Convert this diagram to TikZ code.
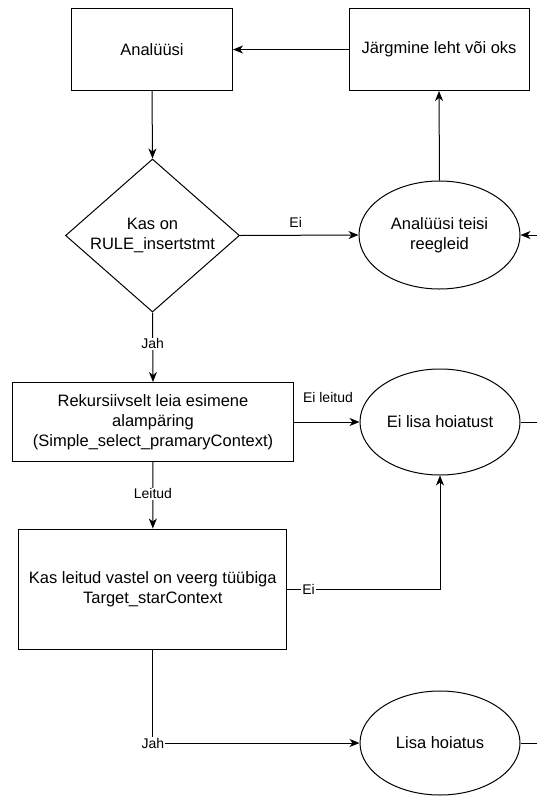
\documentclass[tikz,border=0pt]{standalone}
\usepackage{fontspec}
\setmainfont{Liberation Sans}
\usetikzlibrary{shapes.geometric,arrows.meta}
\begin{document}
\begin{tikzpicture}[x=1pt,y=-1pt,
  box/.style={draw,line width=1pt,rectangle,align=center,inner sep=2pt,font=\fontsize{16.5}{20}\selectfont},
  oval/.style={draw,line width=1pt,ellipse,align=center,inner sep=0pt,font=\fontsize{16.5}{20}\selectfont},
  txt/.style={align=center,inner sep=0pt,font=\fontsize{16.5}{20}\selectfont},
  conn/.style={line width=1pt,-{Stealth[length=10pt,width=8pt,inset=3pt]}},
  plain/.style={line width=1pt},
  elab/.style={font=\fontsize{14}{16}\selectfont,inner sep=1pt},
  onlab/.style={elab,fill=white}]
\useasboundingbox (0,0) rectangle (537,796);
% nodes
\node[box,minimum width=161pt,minimum height=82pt] (ana) at (152,49.5) {Analüüsi};
\node[box,minimum width=180pt,minimum height=82pt] (jarg) at (439,49.5) {Järgmine leht või oks};
\node[draw,line width=1pt,diamond,minimum width=174pt,minimum height=153pt,inner sep=0pt] (kas) at (152.5,235.5) {};
\node[txt] (kastxt) at (152.5,235.5) {Kas on\\RULE\_insertstmt};
\node[oval,minimum width=161pt,minimum height=108pt] (ell1) at (439.5,235) {Analüüsi teisi\\reegleid};
\node[box,minimum width=280.6pt,minimum height=79pt] (rek) at (153,422) {Rekursiivselt leia esimene\\alampäring\\(Simple\_select\_pramaryContext)};
\node[oval,minimum width=160pt,minimum height=106pt] (ell2) at (440,422) {Ei lisa hoiatust};
\node[box,minimum width=267.7pt,minimum height=120pt] (kl) at (152.8,589) {Kas leitud vastel on veerg tüübiga\\Target\_starContext};
\node[oval,minimum width=160pt,minimum height=104pt] (ell3) at (440,743) {Lisa hoiatus};
\coordinate (r1) at (537,235);
\coordinate (r2) at (537,422);
\coordinate (r3) at (537,743);
% connectors
\draw[conn] (jarg.west) -- (ana.east);
\draw[conn] (ana.south) -- (kas.north);
\draw[conn] (kas.east) -- node[elab,pos=0.47,yshift=12.7pt] (lei) {Ei} (ell1.west);
\draw[conn] (ell1.north) -- (jarg.south);
\draw[conn] (r1) -- (ell1.east);
\draw[conn] (kas.south) -- node[onlab,pos=0.45] (ljah) {Jah} (rek.north);
\draw[conn] (rek.east) -- node[elab,pos=0.52,yshift=25pt] (leil) {Ei leitud} (ell2.west);
\draw[conn] (rek.south) -- node[onlab,pos=0.48] (lleit) {Leitud} (kl.north);
\draw[conn] (kl.east) -| node[onlab,pos=0.07] (lei2) {Ei} (ell2.south);
\draw[conn] (kl.south) |- node[onlab,pos=0.5] (ljah2) {Jah} (ell3.west);
\draw[plain] (ell2.east) -- (r2);
\draw[plain] (ell3.east) -- (r3);
\end{tikzpicture}
\end{document}
